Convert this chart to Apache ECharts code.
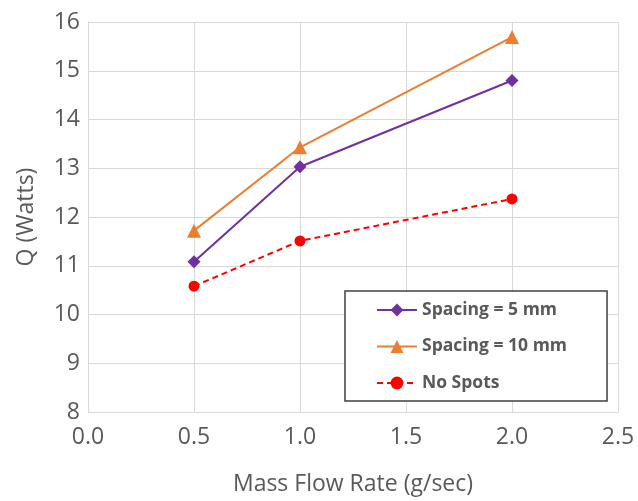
<!DOCTYPE html>
<html>
<head>
<meta charset="utf-8">
<script src="https://cdn.jsdelivr.net/npm/echarts@6/dist/echarts.min.js"></script>
<style>html,body{margin:0;padding:0;background:#fff;}#c{width:638px;height:501px;}</style>
</head>
<body>
<div id="c"></div>
<script>
const xValues = [0.5, 1.0, 2.0];
const spacing5 = [11.08, 13.03, 14.80];
const spacing10 = [11.72, 13.43, 15.69];
const noSpots = [10.58, 11.51, 12.37];
const seriesNames = ['Spacing = 5 mm', 'Spacing = 10 mm', 'No Spots'];

const font = '"Open Sans", "Noto Sans", sans-serif';
const pair = (ys) => xValues.map((x, i) => [x, ys[i]]);
const chart = echarts.init(document.getElementById('c'));
chart.setOption({
  animation: false,
  textStyle: {fontFamily: font},
  grid: {left: 88, right: 20, top: 22, bottom: 88},
  xAxis: {
    type: 'value', min: 0, max: 2.5, interval: 0.5,
    name: 'Mass Flow Rate (g/sec)', nameLocation: 'middle', nameGap: 61,
    nameTextStyle: {fontSize: 23, color: '#595959', fontFamily: font},
    axisLine: {show: true, lineStyle: {color: '#d9d9d9', width: 1}},
    axisTick: {show: false},
    splitLine: {show: true, lineStyle: {color: '#d9d9d9', width: 1}},
    axisLabel: {fontSize: 23, color: '#595959', margin: 14, fontFamily: font,
      formatter: v => v.toFixed(1)}
  },
  yAxis: {
    type: 'value', min: 8, max: 16, interval: 1,
    name: 'Q (Watts)', nameLocation: 'middle', nameGap: 50,
    nameTextStyle: {fontSize: 23, color: '#595959', fontFamily: font},
    axisLine: {show: true, lineStyle: {color: '#d9d9d9', width: 1}},
    axisTick: {show: false},
    splitLine: {show: true, lineStyle: {color: '#d9d9d9', width: 1}},
    axisLabel: {fontSize: 23, color: '#595959', margin: 8, fontFamily: font}
  },
  legend: {
    left: 345, top: 291, orient: 'vertical',
    backgroundColor: '#fff', borderColor: '#404040', borderWidth: 1.5,
    padding: [10, 40, 9, 31], itemGap: 18.5, itemWidth: 40, itemHeight: 16,
    textStyle: {fontSize: 17.5, fontWeight: 'bold', color: '#595959', fontFamily: font},
    data: seriesNames
  },
  series: [
    {name: seriesNames[0], type: 'line', data: pair(spacing5), symbol: 'diamond', symbolSize: 13,
      lineStyle: {color: '#7030A0', width: 2}, itemStyle: {color: '#7030A0'}},
    {name: seriesNames[1], type: 'line', data: pair(spacing10), symbol: 'triangle', symbolSize: 14,
      lineStyle: {color: '#ED7D31', width: 2}, itemStyle: {color: '#ED7D31'}},
    {name: seriesNames[2], type: 'line', data: pair(noSpots), symbol: 'circle', symbolSize: 11,
      lineStyle: {color: '#FF0000', width: 2, type: [6, 4]}, itemStyle: {color: '#FF0000'}}
  ]
});
</script>
</body>
</html>
